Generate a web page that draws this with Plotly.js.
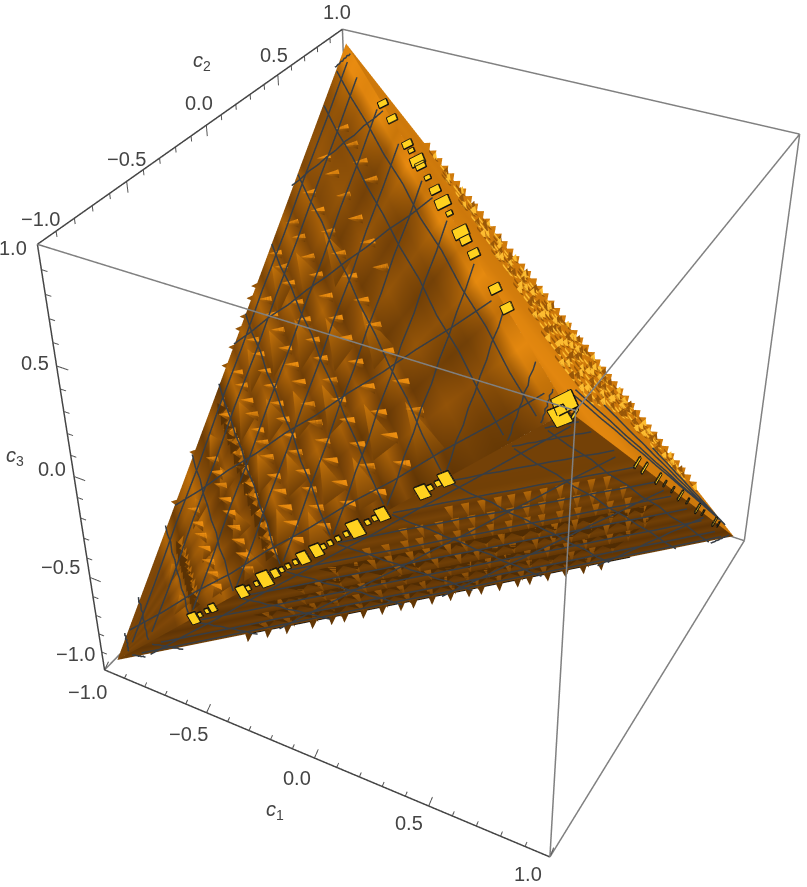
<!DOCTYPE html>
<html>
<head>
<meta charset="utf-8">
<script src="https://cdn.plot.ly/plotly-3.0.1.min.js"></script>
<style>
  html, body { margin: 0; padding: 0; width: 807px; height: 887px; overflow: hidden; background: #fff; }
  /* plot is bigger than the window: plotly's fov is fixed, this gives the weak perspective of the original */
  #plot { position: absolute; left: -282px; top: -308px; width: 1441px; height: 1441px; }
</style>
</head>
<body>
<div id="plot"></div>
<script>
// corners of the body: top, right, left, near
const apexC1 = [-0.96, 0.96, -0.96, 0.96];
const apexC2 = [0.96, 0.96, -0.96, -0.96];
const apexC3 = [0.96, -0.96, -0.96, 0.96];

const tickMajor = [-1, -0.5, 0, 0.5, 1];
const tickMinor = [-0.9, -0.8, -0.7, -0.6, -0.4, -0.3, -0.2, -0.1, 0.1, 0.2, 0.3, 0.4, 0.6, 0.7, 0.8, 0.9];
const tickText = ['\u22121.0', '\u22120.5', '0.0', '0.5', '1.0'];
const meshLevelsC1 = [-0.88, -0.77, -0.55, -0.33, -0.11, 0.11, 0.33, 0.55, 0.77, 0.88];
const meshLevelsC2 = [-0.88, -0.5, 0, 0.5, 0.88];
const meshLevelsC3 = [-0.88, -0.77, -0.55, -0.33, -0.11, 0.11, 0.33, 0.55, 0.77, 0.88];
const meshWiggle = [0, 0.004, -0.003, 0.005, -0.004, 0.002, -0.005, 0.004, -0.002, 0.004, 0];

// left face: shade across the stripes, and along them
const leftK = [0, 0.1, 0.17, 0.2, 0.235, 0.26, 0.3, 0.33, 0.36, 0.39, 0.42, 0.44, 0.47, 0.5, 0.53, 0.56, 0.59, 0.62, 0.65, 0.68, 0.71, 0.74, 0.78, 0.8, 0.84, 0.88, 0.92, 0.96, 0.98, 1];
const leftKShade = [0.36, 0.36, 0.38, 0.6, 0.26, 0.5, 0.66, 0.42, 0.24, 0.52, 0.3, 0.2, 0.62, 0.36, 0.58, 0.34, 0.58, 0.34, 0.56, 0.32, 0.56, 0.32, 0.54, 0.36, 0.44, 0.4, 0.42, 0.58, 0.85, 0.85];
const leftT = [0, 0.06, 0.14, 0.22, 0.3, 0.38, 0.46, 0.54, 0.62, 0.7, 0.78, 0.86, 0.94, 1];
const leftTShade = [-0.14, -0.08, 0.04, -0.09, 0.05, -0.08, 0.05, -0.07, 0.06, -0.06, 0.05, 0.02, 0.06, 0.02];

// bright tents on the left face, one list per stripe
const tentK = [0.2, 0.3, 0.38, 0.47, 0.53, 0.59, 0.65, 0.71, 0.78];
const tentT = [
  [0.2, 0.55],
  [0.12, 0.4, 0.68],
  [0.1, 0.33, 0.6, 0.82],
  [0.15, 0.42, 0.7],
  [0.05, 0.3, 0.55, 0.8],
  [0.18, 0.45, 0.72],
  [0.1, 0.36, 0.62, 0.86],
  [0.2, 0.5, 0.76],
  [0.12, 0.4, 0.68]
];

// left face spikes, one list per stripe
const spikeRowK = [0.3, 0.38, 0.44, 0.5, 0.56, 0.62, 0.68, 0.74, 0.8, 0.86, 0.92];
const spikeRowT = [
  [0.08, 0.17, 0.26, 0.36, 0.46, 0.55, 0.66],
  [0.06, 0.14, 0.22, 0.3, 0.39, 0.47, 0.56, 0.64, 0.73],
  [0.07, 0.13, 0.2, 0.27, 0.35, 0.41, 0.5, 0.58, 0.65, 0.71, 0.8],
  [0.05, 0.12, 0.19, 0.26, 0.33, 0.42, 0.49, 0.55, 0.63, 0.7, 0.78, 0.85],
  [0.04, 0.11, 0.18, 0.25, 0.33, 0.4, 0.47, 0.54, 0.62, 0.69, 0.77, 0.84],
  [0.06, 0.13, 0.21, 0.28, 0.35, 0.42, 0.51, 0.58, 0.65, 0.73, 0.8, 0.87],
  [0.04, 0.12, 0.19, 0.27, 0.34, 0.41, 0.49, 0.56, 0.64, 0.71, 0.79, 0.86, 0.92],
  [0.07, 0.15, 0.22, 0.3, 0.38, 0.46, 0.53, 0.61, 0.69, 0.76, 0.84, 0.9],
  [0.16, 0.24, 0.33, 0.41, 0.49, 0.57, 0.65, 0.73, 0.81, 0.88],
  [0.5, 0.58, 0.66, 0.74, 0.82, 0.88],
  [0.68, 0.74, 0.8, 0.86]
];
const bumpRowK = [0.235, 0.43];
const bumpRowT = [
  [0.12, 0.18, 0.24, 0.3, 0.36, 0.42, 0.48, 0.54, 0.6, 0.66],
  [0.1, 0.16, 0.21, 0.27, 0.33, 0.38, 0.44, 0.5, 0.56, 0.61, 0.67, 0.72, 0.78, 0.84, 0.9]
];
const leftTeeth = [0.25, 0.33, 0.47, 0.5, 0.53, 0.55, 0.58, 0.6];

// bottom face: shade by distance from the near corner, spikes per row
const bottomR = [0, 0.2, 0.3, 0.34, 0.38, 0.42, 0.46, 0.5, 0.54, 0.58, 0.62, 0.66, 0.7, 0.74, 0.78, 0.82, 0.86, 0.9, 0.94, 1];
const bottomRShade = [0.32, 0.32, 0.3, 0.36, 0.24, 0.34, 0.23, 0.33, 0.22, 0.32, 0.21, 0.3, 0.19, 0.29, 0.18, 0.28, 0.17, 0.26, 0.18, 0.3];
const rowR = [0.36, 0.44, 0.52, 0.6, 0.68, 0.76, 0.84, 0.92];
const rowQ = [
  [0.27, 0.33, 0.39, 0.45, 0.5, 0.56, 0.62, 0.68, 0.74, 0.8, 0.86],
  [0.2, 0.25, 0.31, 0.36, 0.41, 0.47, 0.53, 0.58, 0.63, 0.69, 0.74, 0.79, 0.84, 0.89],
  [0.17, 0.22, 0.27, 0.31, 0.36, 0.41, 0.45, 0.5, 0.55, 0.6, 0.64, 0.69, 0.74, 0.79, 0.83, 0.88],
  [0.15, 0.2, 0.24, 0.28, 0.33, 0.37, 0.42, 0.46, 0.51, 0.55, 0.6, 0.64, 0.68, 0.73, 0.77, 0.82, 0.86, 0.9],
  [0.13, 0.17, 0.21, 0.25, 0.3, 0.34, 0.38, 0.42, 0.47, 0.51, 0.55, 0.59, 0.64, 0.68, 0.72, 0.76, 0.8, 0.85, 0.89],
  [0.14, 0.18, 0.22, 0.26, 0.3, 0.34, 0.38, 0.43, 0.47, 0.51, 0.55, 0.59, 0.63, 0.67, 0.71, 0.75, 0.8, 0.84],
  [0.16, 0.2, 0.24, 0.28, 0.32, 0.36, 0.4, 0.44, 0.48, 0.52, 0.56, 0.6, 0.64, 0.68, 0.72, 0.76, 0.8],
  [0.19, 0.23, 0.27, 0.31, 0.35, 0.39, 0.43, 0.47, 0.51, 0.55, 0.59, 0.63, 0.67, 0.71, 0.75]
];
const bottomTeeth = [0.2, 0.23, 0.26, 0.3, 0.33, 0.35, 0.38, 0.41, 0.44, 0.46, 0.49, 0.52, 0.55, 0.57, 0.6, 0.63, 0.65, 0.68, 0.71, 0.74, 0.77];
const blackEdgeQ = [0.2, 0.82];

// right face: s runs top to right corner, w runs from the outer edge to the near corner
const rightW = [0, 0.1, 0.2, 0.3, 0.4, 0.55, 0.7, 0.85, 1];
const rightWShade = [0.8, 0.78, 0.8, 0.78, 0.8, 0.82, 0.88, 0.9, 0.82];
const patchW = [0.05, 0.11, 0.17, 0.23, 0.29, 0.35, 0.42, 0.5, 0.58, 0.66];
const patchS = [
  [0.2, 0.23, 0.27, 0.3, 0.34, 0.37, 0.41, 0.44, 0.48, 0.51, 0.55, 0.58, 0.62, 0.65, 0.69, 0.72, 0.76, 0.79, 0.83, 0.86, 0.9],
  [0.22, 0.25, 0.29, 0.32, 0.36, 0.39, 0.43, 0.46, 0.5, 0.53, 0.57, 0.6, 0.64, 0.67, 0.71, 0.74, 0.78, 0.81, 0.85, 0.88],
  [0.2, 0.24, 0.27, 0.31, 0.35, 0.38, 0.42, 0.45, 0.49, 0.52, 0.56, 0.59, 0.63, 0.66, 0.7, 0.73, 0.77, 0.8, 0.84, 0.87],
  [0.23, 0.27, 0.3, 0.34, 0.37, 0.41, 0.44, 0.48, 0.51, 0.55, 0.58, 0.62, 0.65, 0.69, 0.72, 0.76, 0.79, 0.83],
  [0.27, 0.3, 0.33, 0.37, 0.41, 0.45, 0.48, 0.52, 0.56, 0.59, 0.63, 0.67, 0.7, 0.74, 0.78],
  [0.3, 0.34, 0.38, 0.42, 0.46, 0.5, 0.54, 0.58, 0.62, 0.66, 0.7, 0.74],
  [0.36, 0.4, 0.44, 0.48, 0.52, 0.56, 0.6, 0.64, 0.68, 0.72],
  [0.4, 0.45, 0.5, 0.55, 0.6, 0.65, 0.7],
  [0.44, 0.49, 0.54, 0.59, 0.64, 0.69],
  [0.5, 0.56, 0.62, 0.67]
];
const rightTeeth = [0.2, 0.215, 0.23, 0.245, 0.26, 0.275, 0.29, 0.305, 0.32, 0.335, 0.35, 0.365, 0.38, 0.395, 0.41, 0.425, 0.44, 0.455, 0.47, 0.485, 0.5, 0.515, 0.53, 0.545, 0.56, 0.575, 0.59, 0.605, 0.62, 0.635, 0.65, 0.665, 0.68, 0.695, 0.71, 0.725, 0.74, 0.755, 0.77, 0.785, 0.8, 0.815, 0.83, 0.845, 0.86, 0.875, 0.89];
const rightLineS0 = [0.6, 0.72, 0.84, 0.5];
const rightLineW0 = [0.78, 0.55, 0.3, 0.88];
const rightLineS1 = [0.98, 0.985, 0.99, 0.97];
const rightLineW1 = [0.12, 0.1, 0.06, 0.2];

// yellow blocks along the three edges that meet at the near corner
const yellowLeftAt = [0.22, 0.237, 0.255, 0.27, 0.345, 0.36, 0.38, 0.4, 0.425, 0.44, 0.455, 0.472, 0.49, 0.52, 0.535, 0.55, 0.567, 0.585, 0.605, 0.63, 0.645, 0.66, 0.74, 0.755, 0.77, 0.785, 0.985];
const yellowLeftSize = [3, 1, 1, 2, 3, 1, 1, 4, 2, 1, 1, 1, 3, 3, 1, 1, 1, 1, 4, 1, 1, 3, 3, 1, 1, 3, 4];
const yellowTopAt = [0.22, 0.27, 0.35, 0.37, 0.4, 0.415, 0.45, 0.485, 0.52, 0.55, 0.6, 0.62, 0.655, 0.74, 0.785, 0.985];
const yellowTopSize = [2, 2, 2, 1, 3, 2, 1, 2, 3, 1, 3, 2, 2, 2, 2, 4];
const yellowRightAt = [0.02, 0.32, 0.36, 0.44, 0.48, 0.53, 0.58, 0.63, 0.7, 0.74, 0.83, 0.86];
const yellowRightSize = [2, 2, 2, 2, 1, 1, 2, 1, 2, 1, 2, 1];

// ---- geometry helpers
const cTop = 0, cRight = 1, cLeft = 2, cNear = 3;
const apex = n => [apexC1[n], apexC2[n], apexC3[n]];
const mix = (a, b, t) => a.map((v, n) => v + (b[n] - v) * t);
const add = (a, b, h = 1) => a.map((v, n) => v + b[n] * h);
const sub = (a, b) => a.map((v, n) => v - b[n]);
const unit = a => { const l = Math.hypot(...a); return a.map(v => v / l); };
const cross = (a, b) => [a[1] * b[2] - a[2] * b[1], a[2] * b[0] - a[0] * b[2], a[0] * b[1] - a[1] * b[0]];
const normal = (p, q, r) => unit(add(add(p, q), r));

const ramp = [[0, [70, 38, 2]], [0.4, [128, 72, 8]], [0.7, [190, 110, 8]], [1, [245, 148, 18]]];
function shadeColor(s) {
  s = Math.max(0, Math.min(1, s));
  let n = 0;
  while (n < ramp.length - 2 && s > ramp[n + 1][0]) n++;
  const f = (s - ramp[n][0]) / (ramp[n + 1][0] - ramp[n][0]);
  const c = mix(ramp[n][1], ramp[n + 1][1], f).map(Math.round);
  return 'rgb(' + c.join(',') + ')';
}

const body = { x: [], y: [], z: [], i: [], j: [], k: [], c: [] };
function tri(p, q, r, cp, cq, cr) {
  const at = body.x.length;
  [p, q, r].forEach((v, n) => {
    body.x.push(v[0]); body.y.push(v[1]); body.z.push(v[2]);
    body.c.push([cp, cq || cp, cr || cp][n]);
  });
  body.i.push(at); body.j.push(at + 1); body.k.push(at + 2);
}
function quad(p, q, r, s, cp, cq, cr, cs) {
  tri(p, q, r, cp, cq, cr);
  tri(p, r, s, cp, cr, cs);
}

// left face
const leftN = normal(apex(cTop), apex(cLeft), apex(cNear));
const leftAt = (k, t) => mix(mix(apex(cLeft), apex(cNear), k), mix(apex(cLeft), apex(cTop), k), t);
for (let a = 0; a < leftK.length - 1; a++) {
  for (let b = 0; b < leftT.length - 1; b++) {
    const col = (x, y) => shadeColor(leftKShade[x] + leftTShade[y] * (0.4 + leftK[x]));
    quad(leftAt(leftK[a], leftT[b]), leftAt(leftK[a + 1], leftT[b]), leftAt(leftK[a + 1], leftT[b + 1]), leftAt(leftK[a], leftT[b + 1]),
      col(a, b), col(a + 1, b), col(a + 1, b + 1), col(a, b + 1));
  }
}
tentK.forEach((k, row) => tentT[row].forEach(t => {
  const lift = p => add(p, leftN, 0.003);
  tri(lift(leftAt(k, t + 0.09)), lift(leftAt(k - 0.026, t - 0.06)), lift(leftAt(k + 0.026, t - 0.06)), shadeColor(0.76), shadeColor(0.3), shadeColor(0.36));
}));
// bottom face
const bottomN = normal(apex(cLeft), apex(cRight), apex(cNear));
const bottomAt = (r, q) => mix(apex(cNear), mix(apex(cLeft), apex(cRight), q), r);
for (let a = 0; a < bottomR.length - 1; a++) {
  quad(bottomAt(bottomR[a], 0), bottomAt(bottomR[a + 1], 0), bottomAt(bottomR[a + 1], 1), bottomAt(bottomR[a], 1),
    shadeColor(bottomRShade[a]), shadeColor(bottomRShade[a + 1]), shadeColor(bottomRShade[a + 1]), shadeColor(bottomRShade[a]));
}
// right face
const rightN = normal(apex(cTop), apex(cRight), apex(cNear));
const rightAt = (s, w) => mix(mix(apex(cTop), apex(cRight), s), apex(cNear), w);
for (let a = 0; a < rightW.length - 1; a++) {
  quad(rightAt(0, rightW[a]), rightAt(0, rightW[a + 1]), rightAt(1, rightW[a + 1]), rightAt(1, rightW[a]),
    shadeColor(rightWShade[a]), shadeColor(rightWShade[a + 1]), shadeColor(rightWShade[a + 1]), shadeColor(rightWShade[a]));
}

// spikes on the left face point left on the page
const lv1 = sub(apex(cTop), apex(cLeft)), lv2 = sub(apex(cNear), apex(cLeft));
const combo = (u, a, v, b) => add(u.map(x => x * a), v, b);
spikeRowK.forEach((k, row) => spikeRowT[row].forEach(t => {
  const base = add(leftAt(k, t), leftN, 0.006);
  const tip = add(base, combo(lv1, 0.022, lv2, -0.046));
  const up = combo(lv1, 0.0085, lv2, -0.0043);
  const tail = combo(lv1, -0.004, lv2, 0.006);
  tri(add(base, up), add(add(base, tail), up, -1), tip, shadeColor(0.6), shadeColor(0.26), shadeColor(0.72));
  tri(add(base, up), add(base, tail), tip, shadeColor(1), shadeColor(0.92), shadeColor(0.86));
}));
bumpRowK.forEach((k, row) => bumpRowT[row].forEach(t => {
  const base = add(leftAt(k, t), leftN, 0.006);
  const w = combo(lv1, 0.012, lv2, -0.02);
  tri(add(base, w), add(base, w, -1), add(base, combo(lv1, -0.016, lv2, 0), 1), shadeColor(0.14));
  tri(add(base, w, 0.6), add(base, w, -0.4), add(base, combo(lv1, 0.014, lv2, 0), 1), shadeColor(0.66));
}));
leftTeeth.forEach(k => {
  const e = leftAt(k, 1);
  tri(add(e, lv1, 0.004), add(e, lv1, -0.004), add(e, combo(lv1, 0.008, lv2, -0.02)), shadeColor(0.5));
});

// spikes on the bottom face point straight down on the page
const bv1 = sub(apex(cLeft), apex(cNear)), bv2 = sub(apex(cRight), apex(cNear));
const bw = sub(apex(cRight), apex(cLeft));
rowR.forEach((r, row) => rowQ[row].forEach(q => {
  const base = add(bottomAt(r, q), bottomN, 0.006);
  const tip = add(base, combo(bv1, 0.024, bv2, 0.064));
  const tipShort = add(base, combo(bv1, 0.014, bv2, 0.036));
  if (r > 0.55) tri(add(base, bw, 0.018), add(base, bw, -0.018), tipShort, shadeColor(0.07));
  tri(add(base, bw, 0.0055), add(base, bw, -0.0055), tip, shadeColor(0.78 - r * 0.35), shadeColor(0.78 - r * 0.35), shadeColor(0.46 - r * 0.2));
}));
// the box clips at c3 = -1, so the bottom teeth lean in c1 and c2 only
const bottomOut = [0.024, -0.046, 0];
bottomTeeth.forEach(q => {
  const e = bottomAt(1, q);
  tri(add(e, bw, 0.006), add(e, bw, -0.006), add(e, bottomOut), shadeColor(0.2));
});

// right face, same thing: c2 can't grow past the box
const rv = sub(apex(cRight), apex(cTop));
const rightOut = [0.017, 0, 0.021];
patchW.forEach((w, row) => patchS[row].forEach((s, n) => {
  const base = add(rightAt(s, w), rightN, 0.006);
  const glow = 'rgb(252,188,48)', deep = shadeColor(0.52);
  tri(add(base, rv, 0.014), add(base, rv, -0.01), add(base, rightOut, -1.1), n % 2 ? glow : deep);
  tri(add(base, rv, 0.01), add(base, rightOut, -0.9), add(base, rightOut, 0.8), n % 2 ? deep : glow);
}));
rightTeeth.forEach(s => {
  const e = rightAt(s, 0);
  tri(add(e, rv, 0.0065), add(e, rv, -0.0065), add(e, rightOut), shadeColor(0.8));
});

// mesh lines: planes of constant c1, c2, c3 cut through the two big faces
const meshX = [], meshY = [], meshZ = [];
function meshLine(a, b, n, turn) {
  const side = unit(cross(sub(b, a), n));
  const last = meshWiggle.length - 1;
  meshWiggle.forEach((w, m) => {
    const off = (m === 0 || m === last) ? 0 : meshWiggle[(m + turn) % last];
    const p = add(add(mix(a, b, m / last), n, 0.011), side, off);
    meshX.push(p[0]); meshY.push(p[1]); meshZ.push(p[2]);
  });
  meshX.push(null); meshY.push(null); meshZ.push(null);
}
const faces = [[cTop, cLeft, cNear, leftN], [cLeft, cRight, cNear, bottomN]];
let lineCount = 0;
[meshLevelsC1, meshLevelsC2, meshLevelsC3].forEach((levels, axis) => levels.forEach(level => faces.forEach(f => {
  const ends = [];
  [[f[0], f[1]], [f[1], f[2]], [f[2], f[0]]].forEach(e => {
    const p = apex(e[0]), q = apex(e[1]);
    if (p[axis] === q[axis]) return;
    const t = (level - p[axis]) / (q[axis] - p[axis]);
    if (t >= 0 && t <= 1) ends.push(mix(p, q, t));
  });
  if (ends.length < 2) return;
  meshLine(mix(ends[0], ends[1], 0.015), mix(ends[1], ends[0], 0.015), f[3], lineCount++);
})));
rightLineS0.forEach((s, n) => meshLine(rightAt(s, rightLineW0[n]), rightAt(rightLineS1[n], rightLineW1[n]), rightN, n));

// yellow blocks
const view = unit([1.3, -2.4, 2]);
const yellow = { x: [], y: [], z: [], i: [], j: [], k: [] };
const rimX = [], rimY = [], rimZ = [];
function block(p, along, size, lenScale, widScale) {
  const e = unit(along), g = unit(cross(e, view));
  const l = (0.0045 + size * 0.0065) * lenScale, h = (0.004 + size * 0.0085) * widScale;
  const c = add(p, view, 0.03);
  const pts = [[-l, -h], [l, -h * 0.8], [l, h], [-l, h * 0.8]].map(o => add(add(c, e, o[0]), g, o[1]));
  const at = yellow.x.length;
  pts.forEach(v => { yellow.x.push(v[0]); yellow.y.push(v[1]); yellow.z.push(v[2]); });
  yellow.i.push(at, at); yellow.j.push(at + 1, at + 2); yellow.k.push(at + 2, at + 3);
  pts.concat([pts[0]]).forEach(v => { rimX.push(v[0]); rimY.push(v[1]); rimZ.push(v[2]); });
  rimX.push(null); rimY.push(null); rimZ.push(null);
}
yellowLeftAt.forEach((t, n) => block(mix(apex(cLeft), apex(cNear), t), sub(apex(cNear), apex(cLeft)), yellowLeftSize[n], 1.1, 0.85));
yellowTopAt.forEach((t, n) => block(mix(apex(cTop), apex(cNear), t), sub(apex(cNear), apex(cTop)), yellowTopSize[n], 1.35, 1));
yellowRightAt.forEach((t, n) => block(mix(apex(cNear), apex(cRight), t), sub(apex(cRight), apex(cNear)), yellowRightSize[n], 0.65, 1.1));
// black rim along the bottom edge
[bottomAt(1, blackEdgeQ[0]), bottomAt(1, blackEdgeQ[1])].forEach(p => { rimX.push(p[0]); rimY.push(p[1]); rimZ.push(p[2]); });

// box and ticks
const boxX = [], boxY = [], boxZ = [];
const sign = [-1, 1];
sign.forEach(a => sign.forEach(b => {
  boxX.push(-1, 1, null, a, a, null, a, a, null);
  boxY.push(a, a, null, -1, 1, null, b, b, null);
  boxZ.push(b, b, null, b, b, null, -1, 1, null);
}));
const axisX = [-1, 1, null, -1, -1, null, -1, -1];
const axisY = [-1, -1, null, -1, 1, null, -1, -1];
const axisZ = [-1, -1, null, 1, 1, null, -1, 1];
const tickX = [], tickY = [], tickZ = [];
function ticks(values, len) {
  values.forEach(v => {
    tickX.push(v, v, null); tickY.push(-1, -1 + 0.03 * len, null); tickZ.push(-1, -1 + 0.02 * len, null);
    tickX.push(-1, -1, null); tickY.push(v, v, null); tickZ.push(1, 1 - 0.046 * len, null);
    tickX.push(-1, -1 + 0.052 * len, null); tickY.push(-1, -1, null); tickZ.push(v, v, null);
  });
}
ticks(tickMajor, 1);
ticks(tickMinor, 0.5);

// labels as scene annotations, shifted off the axes
const labelFont = { family: 'Liberation Sans, Arial, sans-serif', size: 20, color: '#444444' };
const titleFont = { family: 'Liberation Sans, Arial, sans-serif', size: 20, color: '#444444' };
const notes = [];
const note = (x, y, z, text, dx, dy, font) => notes.push({ x, y, z, text, xshift: dx, yshift: -dy, showarrow: false, font, xanchor: 'center', yanchor: 'middle' });
const c1Shift = [[-17, 22], [-18, 21], [-17, 20], [-20, 17], [-22, 17]];
const c2Shift = [[3, -25], [0, -22], [-7, -22], [-4, -20], [-5, -17]];
const c3Shift = [[-29, -16], [-29, -10], [-22, -8], [-22, -3], [-24, 4]];
tickMajor.forEach((v, n) => {
  note(v, -1, -1, tickText[n], c1Shift[n][0], c1Shift[n][1], labelFont);
  note(-1, v, 1, tickText[n], c2Shift[n][0], c2Shift[n][1], labelFont);
  note(-1, -1, v, tickText[n], c3Shift[n][0], c3Shift[n][1], labelFont);
});
note(0, -1, -1, '<i>c</i><sub>1</sub>', -39, 52, titleFont);
note(-1, 0, 1, '<i>c</i><sub>2</sub>', -4, -64, titleFont);
note(-1, -1, 0, '<i>c</i><sub>3</sub>', -59, -20, titleFont);

const flat = { ambient: 1, diffuse: 0, specular: 0, roughness: 1, fresnel: 0 };
const traces = [
  { type: 'mesh3d', x: body.x, y: body.y, z: body.z, i: body.i, j: body.j, k: body.k, vertexcolor: body.c, flatshading: true, lighting: flat, hoverinfo: 'skip', showscale: false },
  { type: 'mesh3d', x: yellow.x, y: yellow.y, z: yellow.z, i: yellow.i, j: yellow.j, k: yellow.k, color: '#ffd21f', flatshading: true, lighting: flat, hoverinfo: 'skip' },
  { type: 'scatter3d', mode: 'lines', x: meshX, y: meshY, z: meshZ, line: { color: '#363d45', width: 3 }, hoverinfo: 'skip' },
  { type: 'scatter3d', mode: 'lines', x: rimX, y: rimY, z: rimZ, line: { color: '#111111', width: 3 }, hoverinfo: 'skip' },
  { type: 'scatter3d', mode: 'lines', x: boxX, y: boxY, z: boxZ, line: { color: '#808080', width: 3 }, hoverinfo: 'skip' },
  { type: 'scatter3d', mode: 'lines', x: axisX, y: axisY, z: axisZ, line: { color: '#444444', width: 3 }, hoverinfo: 'skip' },
  { type: 'scatter3d', mode: 'lines', x: tickX, y: tickY, z: tickZ, line: { color: '#555555', width: 2 }, hoverinfo: 'skip' }
];
const hidden = { visible: false, range: [-1.004, 1.004], autorange: false };
const layout = {
  width: 1441, height: 1441,
  margin: { l: 0, r: 0, t: 0, b: 0 },
  paper_bgcolor: '#ffffff',
  showlegend: false,
  scene: {
    domain: { x: [0, 1], y: [0, 1] },
    xaxis: hidden, yaxis: hidden, zaxis: hidden,
    aspectmode: 'manual', aspectratio: { x: 1, y: 1, z: 1 },
    camera: { eye: { x: 1.3, y: -2.4, z: 2 }, center: { x: 0, y: 0, z: 0 }, up: { x: 0, y: 0, z: 1 }, projection: { type: 'perspective' } },
    annotations: notes
  }
};
Plotly.newPlot('plot', traces, layout, { displayModeBar: false });
</script>
</body>
</html>
